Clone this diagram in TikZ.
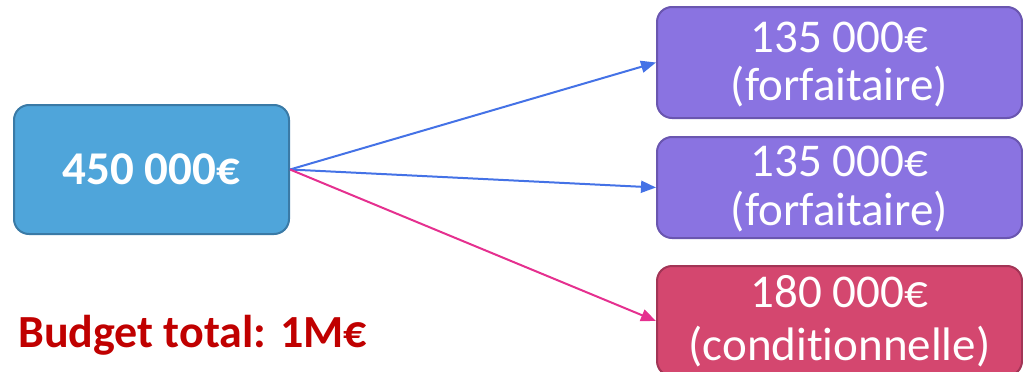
\documentclass[tikz,border=0pt]{standalone}
\usepackage{fontspec}
\setmainfont{Carlito}[Ligatures=NoCommon]
\usetikzlibrary{arrows.meta}
\definecolor{srcfill}{HTML}{4FA5DA}
\definecolor{srcline}{HTML}{3A7AA6}
\definecolor{purfill}{HTML}{8A73E1}
\definecolor{purline}{HTML}{6A56B0}
\definecolor{pinkfill}{HTML}{D4476F}
\definecolor{pinkline}{HTML}{A23556}
\definecolor{bluearrow}{HTML}{4472E6}
\definecolor{pinkarrow}{HTML}{E5308F}
\definecolor{budgetred}{HTML}{C00000}
\begin{document}
\begin{tikzpicture}[x=1pt,y=-1pt,
  box/.style={rounded corners=15pt, line width=2pt, inner sep=0pt, minimum width=#1},
  box/.default=365pt,
  lbl/.style={text=white, font=\fontsize{47}{48}\selectfont, anchor=base, inner sep=0pt},
  conn/.style={line width=2pt, -{Triangle[length=15pt,width=12pt]}}
]
\useasboundingbox (0,0) rectangle (1023,372);
\clip (0,0) rectangle (1023,372);
% source
\node[box=275pt, fill=srcfill, draw=srcline, minimum height=129pt,
      text=white, font=\fontsize{47}{48}\selectfont\bfseries] (src) at (151.5,169.5) {450 000€};
% targets
\node[box, fill=purfill, draw=purline, minimum height=111pt] (t1) at (839.5,62.5) {};
\node[box, fill=purfill, draw=purline, minimum height=101pt] (t2) at (839.5,187.5) {};
\node[box, fill=pinkfill, draw=pinkline, minimum height=110pt] (t3) at (839.5,321) {};
% labels
\node[lbl] (t1a) at (839.5,52) {135 000€};
\node[lbl] (t1b) at (839.5,100) {(forfaitaire)};
\node[lbl] (t2a) at (839.5,176) {135 000€};
\node[lbl] (t2b) at (839.5,225) {(forfaitaire)};
\node[lbl] (t3a) at (839.5,307) {180 000€};
\node[lbl] (t3b) at (839.5,360) {(conditionnelle)};
% connectors
\draw[conn, draw=bluearrow, fill=bluearrow] (src.east) -- (t1.west);
\draw[conn, draw=bluearrow, fill=bluearrow] (src.east) -- (t2.west);
\draw[conn, draw=pinkarrow, fill=pinkarrow] (src.east) -- (t3.west);
% budget
\node[text=budgetred, font=\fontsize{46}{48}\selectfont\bfseries, anchor=base west, inner sep=0pt] (budget) at (18,347) {Budget total: 1M€};
\end{tikzpicture}
\end{document}
